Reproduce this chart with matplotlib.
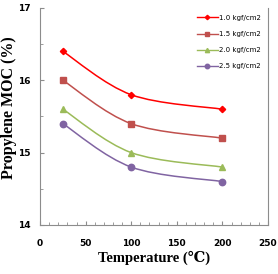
import matplotlib.pyplot as plt
from matplotlib.path import Path
from matplotlib.patches import PathPatch
from matplotlib.lines import Line2D
from matplotlib.ticker import MultipleLocator

# Data
temperature = [25, 100, 200]
moc_10 = [16.4, 15.8, 15.6]
moc_15 = [16.0, 15.4, 15.2]
moc_20 = [15.6, 15.0, 14.8]
moc_25 = [15.4, 14.8, 14.6]
labels = ["1.0 kgf/cm2", "1.5 kgf/cm2", "2.0 kgf/cm2", "2.5 kgf/cm2"]

series = [moc_10, moc_15, moc_20, moc_25]
colors = ["#FF0000", "#C0504D", "#9BBB59", "#8064A2"]
markers = ["D", "s", "^", "o"]
msizes = [3.2, 4.2, 4.4, 4.6]
serif = ["Liberation Serif", "DejaVu Serif"]


def smooth_path(xs, ys):
    """Excel-like smoothed line: Catmull-Rom segments as cubic Beziers."""
    pts = list(zip(xs, ys))
    n = len(pts)
    verts = [pts[0]]
    codes = [Path.MOVETO]
    for i in range(n - 1):
        p0 = pts[max(i - 1, 0)]
        p1 = pts[i]
        p2 = pts[i + 1]
        p3 = pts[min(i + 2, n - 1)]
        c1 = (p1[0] + (p2[0] - p0[0]) / 6, p1[1] + (p2[1] - p0[1]) / 6)
        c2 = (p2[0] - (p3[0] - p1[0]) / 6, p2[1] - (p3[1] - p1[1]) / 6)
        verts += [c1, c2, p2]
        codes += [Path.CURVE4] * 3
    return Path(verts, codes)


fig = plt.figure(figsize=(2.78, 2.74), dpi=100)
ax = fig.add_axes([0.144, 0.179, 0.82, 0.792])

handles = []
for ys, c, m, ms, lab in zip(series, colors, markers, msizes, labels):
    ax.add_patch(PathPatch(smooth_path(temperature, ys), fill=False,
                           edgecolor=c, lw=1.1))
    ax.plot(temperature, ys, ls="none", marker=m, ms=ms, color=c)
    handles.append(Line2D([0], [0], color=c, lw=1.0, marker=m,
                          ms=ms * 0.7, label=lab))

ax.set_xlim(0, 250)
ax.set_ylim(14, 17)
ax.xaxis.set_major_locator(MultipleLocator(50))
ax.xaxis.set_minor_locator(MultipleLocator(10))
ax.yaxis.set_major_locator(MultipleLocator(1))
ax.yaxis.set_minor_locator(MultipleLocator(0.5))

for s in ["left", "bottom", "right"]:
    ax.spines[s].set_color("#8C8C8C")
    ax.spines[s].set_linewidth(0.8)
ax.spines["top"].set_visible(False)
ax.tick_params(which="both", direction="in", color="#8C8C8C", labelsize=6.5)
ax.tick_params(axis="x", pad=10)
ax.tick_params(axis="y", pad=7)
ax.tick_params(which="major", length=3)
ax.tick_params(which="minor", length=2)
for lbl in ax.get_xticklabels() + ax.get_yticklabels():
    lbl.set_fontweight("bold")

ax.set_xlabel("Temperature (\u2103)", fontsize=10.5, fontweight="bold",
              family=serif, labelpad=2)
ax.set_ylabel("Propylene MOC (%)", fontsize=11.5, fontweight="bold",
              family=serif)
ax.yaxis.set_label_coords(-0.102, 0.54)

ax.legend(handles=handles, loc="upper right", frameon=False, fontsize=5,
          handlelength=3.0, handletextpad=0.2, labelspacing=1.45,
          borderaxespad=0.6)

fig.savefig("out.png", dpi=100)
